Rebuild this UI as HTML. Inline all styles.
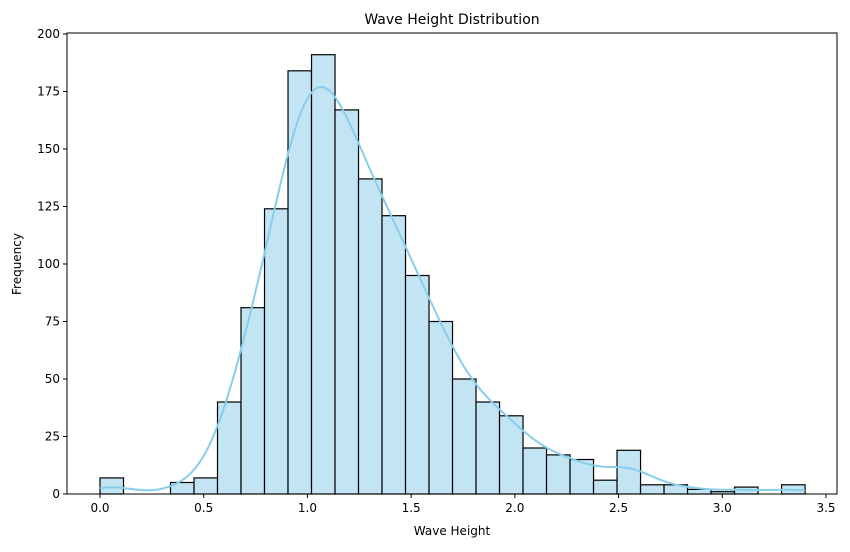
<!DOCTYPE html>
<html><head><meta charset="utf-8"><style>
body{margin:0;background:#fff;font-family:"Liberation Sans","DejaVu Sans",sans-serif}
svg text{font-family:"DejaVu Sans","Liberation Sans",sans-serif;fill:#000}
</style></head><body>
<svg id="c" width="850" height="547"></svg>
<script>
const binCounts=[7,0,0,5,7,40,81,124,184,191,167,137,121,95,75,50,40,34,20,17,15,6,19,4,4,2,1,3,0,4];
const binStart=0, binWidth=0.1133;
const xTicks=[0,0.5,1,1.5,2,2.5,3,3.5];
const xTickLabels=["0.0","0.5","1.0","1.5","2.0","2.5","3.0","3.5"];
const yTicks=[0,25,50,75,100,125,150,175,200];
const kdeBandwidth=0.11;

const svg=document.getElementById('c');
const NS='http://www.w3.org/2000/svg';
const L=67,R=837,T=33,B=494;
const xs=v=>100+v*(826-100)/3.5;
const ys=v=>494-v*(494-34)/200;
function mk(tag,attrs,parent){const e=document.createElementNS(NS,tag);for(const k in attrs)e.setAttribute(k,attrs[k]);(parent||svg).appendChild(e);return e;}

const bars=mk('g',{});


binCounts.forEach((c,i)=>{
  if(c<=0)return;
  const x0=xs(binStart+i*binWidth),x1=xs(binStart+(i+1)*binWidth);
  const r=mk('rect',{x:x0,y:ys(c),width:x1-x0,height:ys(0)-ys(c),fill:'#c3e5f3',stroke:'#000','stroke-width':1.2},bars);
  
  
});

// KDE computed from histogram
const pts=[];
const xmax=binStart+binCounts.length*binWidth;
for(let k=0;k<=200;k++){
  const x=binStart+(xmax-binStart)*k/200;
  let s=0;
  binCounts.forEach((c,i)=>{const m=binStart+(i+0.5)*binWidth;const z=(x-m)/kdeBandwidth;s+=c*binWidth*Math.exp(-z*z/2)/(kdeBandwidth*Math.sqrt(2*Math.PI));});
  pts.push(xs(x).toFixed(1)+','+ys(s).toFixed(1));
}
const kde=mk('polyline',{points:pts.join(' '),fill:'none',stroke:'#87ceeb','stroke-width':2});



const frame=mk('rect',{x:L,y:T,width:R-L,height:B-T,fill:'none',stroke:'#000','stroke-width':1});



xTicks.forEach((v,i)=>{
  mk('line',{x1:xs(v),x2:xs(v),y1:B,y2:B+4,stroke:'#000'});
  const t=mk('text',{x:xs(v),y:B+18,'text-anchor':'middle','font-size':12});
  t.textContent=xTickLabels[i];
  
  
});
yTicks.forEach(v=>{
  mk('line',{x1:L-4,x2:L,y1:ys(v),y2:ys(v),stroke:'#000'});
  const t=mk('text',{x:L-7,y:ys(v)+4,'text-anchor':'end','font-size':12});
  t.textContent=v;
  
  
});
let t=mk('text',{x:452,y:535,'text-anchor':'middle','font-size':12});t.textContent='Wave Height';


t=mk('text',{x:21,y:264,'text-anchor':'middle','font-size':12,transform:'rotate(-90 21 264)'});t.textContent='Frequency';


t=mk('text',{x:452,y:24,'text-anchor':'middle','font-size':14});t.textContent='Wave Height Distribution';


</script>
</body></html>
